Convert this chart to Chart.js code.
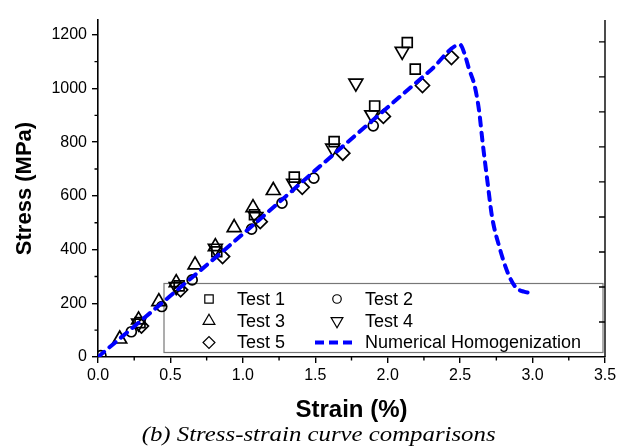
<!DOCTYPE html>
<html lang="en">
<head>
<meta charset="UTF-8">
<title>Stress-strain curve comparisons</title>
<script src="https://cdn.jsdelivr.net/npm/chart.js"></script>
<style>
  body { margin: 0; background: #fff; }
  #wrap { position: relative; width: 637px; height: 448px; }
  #caption {
    position: absolute; left: 0; top: 423px; width: 637px;
    text-align: center; color: #000;
    font: italic 20px "Liberation Serif", "DejaVu Serif", serif;
    transform: scaleX(1.24); transform-origin: 318px 0;
  }
</style>
</head>
<body>
<div id="wrap">
  <canvas id="myChart" width="637" height="448"></canvas>
  <div id="caption">(b) Stress-strain curve comparisons</div>
</div>
<script>
// experimental tests (strain %, stress MPa)
const test1Strain = [0.29, 0.56, 0.82, 1.08, 1.355, 1.63, 1.91, 2.135, 2.19];
const test1Stress = [128, 265, 392, 530, 670, 802, 935, 1171, 1072];
const test2Strain = [0.02, 0.23, 0.44, 0.65, 1.06, 1.27, 1.49, 1.90];
const test2Stress = [5, 94, 188, 287, 476, 573, 666, 861];
const test3Strain = [0.15, 0.28, 0.42, 0.54, 0.67, 0.81, 0.94, 1.07, 1.21];
const test3Stress = [67, 138, 206, 277, 343, 411, 482, 556, 620];
const test4Strain = [0.28, 0.54, 0.81, 1.09, 1.35, 1.62, 1.78, 1.89, 2.10];
const test4Stress = [126, 262, 405, 523, 647, 778, 1020, 902, 1138];
const test5Strain = [0.30, 0.57, 0.86, 1.12, 1.41, 1.69, 1.97, 2.24, 2.44];
const test5Stress = [115, 250, 374, 504, 632, 759, 896, 1011, 1115];

// numerical homogenization curve
const numStrain = [0, 0.5, 1.0, 1.5, 2.0, 2.3, 2.5, 2.53, 2.56, 2.60, 2.63, 2.655, 2.69, 2.72, 2.77, 2.83, 2.88, 2.94, 3.0];
const numStress = [0, 228, 458, 695, 930, 1070, 1163, 1130, 1075, 1010, 920, 800, 647, 523, 411, 312, 262, 243, 238];

const xTicks = [0, 0.5, 1.0, 1.5, 2.0, 2.5, 3.0, 3.5];
const yTicks = [0, 200, 400, 600, 800, 1000, 1200];
const rightTickStep = 130.4;

function pts(xs, ys) {
    return xs.map((v, i) => ({ x: v, y: ys[i] }));
}

const markerStyle = { showLine: false, borderColor: '#000', backgroundColor: 'rgba(0,0,0,0)', borderWidth: 1.7, order: 1 };

const series = [
    { label: 'Test 1', data: pts(test1Strain, test1Stress), pointStyle: 'rect', pointRadius: 7 },
    { label: 'Test 2', data: pts(test2Strain, test2Stress), pointStyle: 'circle', pointRadius: 5 },
    { label: 'Test 3', data: pts(test3Strain, test3Stress), pointStyle: 'triangle', pointRadius: 8 },
    { label: 'Test 4', data: pts(test4Strain, test4Stress), pointStyle: 'triangle', pointRotation: 180, pointRadius: 8 },
    { label: 'Test 5', data: pts(test5Strain, test5Stress), pointStyle: 'rectRot', pointRadius: 7 }
].map(s => Object.assign({}, markerStyle, s));

const numerical = {
    label: 'Numerical Homogenization',
    data: pts(numStrain, numStress),
    showLine: true,
    borderColor: '#0000ff',
    borderWidth: 4,
    borderDash: [8, 7],
    borderCapStyle: 'round',
    cubicInterpolationMode: 'monotone',
    pointRadius: 0,
    order: 0
};

// minor ticks, right axis and the framed legend
const axisExtras = {
    id: 'axisExtras',
    beforeDatasetsDraw(chart) {
        const { ctx, chartArea: a } = chart;
        const bx = a.left + 66, by = 283.5, bw = a.right - 2 - bx, bh = 69;
        ctx.save();
        ctx.strokeStyle = '#777';
        ctx.lineWidth = 1.2;
        ctx.strokeRect(bx, by, bw, bh);

        const cols = [bx + 45, bx + 173];
        const rows = [by + 15.5, by + 37.5, by + 59];
        ctx.font = '18px "Liberation Sans", Arial, sans-serif';
        ctx.textBaseline = 'middle';
        const items = [series[0], series[1], series[2], series[3], series[4], numerical];
        items.forEach((ds, i) => {
            const cx = cols[i % 2], cy = rows[Math.floor(i / 2)];
            if (ds === numerical) {
                ctx.save();
                ctx.strokeStyle = ds.borderColor;
                ctx.lineWidth = 4;
                ctx.setLineDash([9, 5]);
                ctx.beginPath();
                ctx.moveTo(cx - 22, cy);
                ctx.lineTo(cx + 16, cy);
                ctx.stroke();
                ctx.restore();
            } else {
                ctx.strokeStyle = '#000';
                ctx.fillStyle = 'rgba(0,0,0,0)';
                Chart.helpers.drawPoint(ctx, {
                    pointStyle: ds.pointStyle,
                    rotation: ds.pointRotation || 0,
                    radius: ds.pointRadius * 0.85,
                    borderWidth: 1.7
                }, cx, cy);
            }
            ctx.fillStyle = '#000';
            ctx.fillText(ds.label, cx + 28, cy + 1);
        });
        ctx.restore();
    },
    afterDraw(chart) {
        const { ctx, chartArea: a, scales: { x, y } } = chart;
        ctx.save();
        ctx.strokeStyle = '#000';
        ctx.lineWidth = 1.4;
        ctx.beginPath();
        for (let v = 0.25; v < 3.5; v += 0.5) {
            const px = x.getPixelForValue(v);
            ctx.moveTo(px, a.bottom);
            ctx.lineTo(px, a.bottom + 3.5);
        }
        for (let v = 100; v < 1250; v += 200) {
            const py = y.getPixelForValue(v);
            ctx.moveTo(a.left, py);
            ctx.lineTo(a.left - 3.5, py);
        }
        ctx.moveTo(a.right, a.top);
        ctx.lineTo(a.right, a.bottom);
        for (let v = rightTickStep; v < 1250; v += rightTickStep) {
            const py = y.getPixelForValue(v);
            ctx.moveTo(a.right, py);
            ctx.lineTo(a.right - 6, py);
        }
        ctx.stroke();
        ctx.restore();
    }
};

const tickFont = { family: '"Liberation Sans", Arial, sans-serif', size: 16 };
const titleFont = { family: '"Liberation Sans", Arial, sans-serif', size: 24, weight: 'bold' };

new Chart(document.getElementById('myChart'), {
    type: 'scatter',
    data: { datasets: [numerical].concat(series) },
    options: {
        responsive: false,
        animation: false,
        layout: { padding: { left: 0, top: 20, right: 32, bottom: 0 } },
        plugins: { legend: { display: false }, tooltip: { enabled: false } },
        scales: {
            x: {
                min: 0, max: 3.5,
                afterBuildTicks: s => { s.ticks = xTicks.map(v => ({ value: v })); },
                afterFit: s => { s.height = 91; },
                ticks: { color: '#000', font: tickFont, padding: 3, maxRotation: 0,
                         callback: v => Number(v).toFixed(1) },
                grid: { drawOnChartArea: false, drawTicks: true, tickLength: 6, color: '#000', lineWidth: 1.4 },
                border: { display: true, color: '#000', width: 1.6 },
                title: { display: true, text: 'Strain (%)', color: '#000', font: titleFont, padding: { top: 0, bottom: 23 } }
            },
            y: {
                min: 0, max: 1255,
                afterBuildTicks: s => { s.ticks = yTicks.map(v => ({ value: v })); },
                afterFit: s => { s.width = 98; },
                ticks: { color: '#000', font: tickFont, padding: 5, callback: v => String(v) },
                grid: { drawOnChartArea: false, drawTicks: true, tickLength: 6, color: '#000', lineWidth: 1.4 },
                border: { display: true, color: '#000', width: 1.6 },
                title: { display: true, text: 'Stress (MPa)', color: '#000', font: { family: titleFont.family, size: 22, weight: 'bold' }, padding: { top: 12, bottom: 0 } }
            }
        }
    },
    plugins: [axisExtras]
});
</script>
</body>
</html>
